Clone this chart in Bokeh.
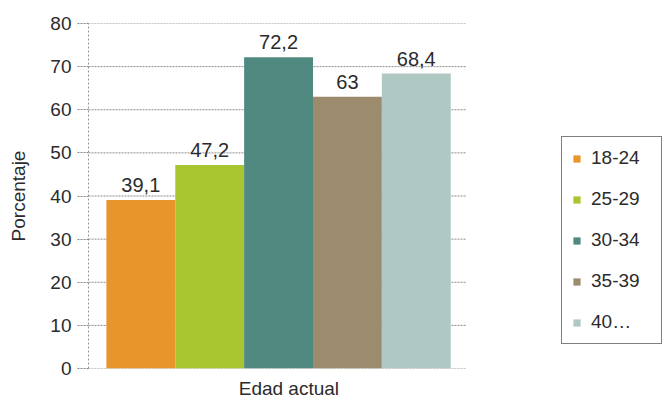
from bokeh.plotting import figure
from bokeh.models import ColumnDataSource, FixedTicker, Legend, LegendItem, Range1d
from bokeh.core.properties import value
from bokeh.embed import file_html
from bokeh.resources import INLINE

# Age groups and percentage values
groups = ["18-24", "25-29", "30-34", "35-39", "40..."]
legend_labels = ["18-24", "25-29", "30-34", "35-39", "40…"]
percent = [39.1, 47.2, 72.2, 63.0, 68.4]
value_labels = ["39,1", "47,2", "72,2", "63", "68,4"]
colors = ["#E8962C", "#A9C631", "#4F8980", "#9C8B6D", "#AEC8C3"]
y_ticks = [0, 10, 20, 30, 40, 50, 60, 70, 80]
x_title = "Edad actual"

FONT = "Liberation Sans"
TXT = "#2b2b2b"

# horizontal extent of the bar area (in bar units)
X_LEFT, X_RIGHT = -0.76, 4.73
TITLE_POS = 2.15

src = ColumnDataSource(dict(
    x=list(range(len(groups))),
    top=percent,
    color=colors,
    lab=value_labels,
))

p = figure(
    width=663, height=401,
    x_range=Range1d(X_LEFT, 7.59), y_range=Range1d(0, 80),
    output_backend="svg", toolbar_location=None,
    min_border_left=88, min_border_right=0,
    min_border_top=23, min_border_bottom=32,
)
p.outline_line_color = None
p.background_fill_color = "white"

# dashed guide lines across the bar area only
p.segment(x0=X_LEFT, x1=X_RIGHT, y0=y_ticks, y1=y_ticks,
          line_color="#8c8c8c", line_dash="2 1", line_width=1)

rs = []
for i in range(len(groups)):
    r = p.vbar(x=[i], top=[percent[i]], width=1.0, fill_color=colors[i],
               line_color=None)
    rs.append(r)

p.text(x="x", y="top", text="lab", source=src, text_align="center",
       text_baseline="bottom", y_offset=-8, text_font=value(FONT),
       text_font_size="20px", text_color=TXT)

# y axis
p.yaxis.ticker = FixedTicker(ticks=y_ticks)
p.yaxis.axis_label = "Porcentaje"
p.yaxis.axis_label_text_font = FONT
p.yaxis.axis_label_text_font_size = "19px"
p.yaxis.axis_label_text_font_style = "normal"
p.yaxis.axis_label_text_color = TXT
p.yaxis.axis_label_standoff = 18
p.yaxis.major_label_text_font = FONT
p.yaxis.major_label_text_font_size = "19px"
p.yaxis.major_label_text_color = TXT
p.yaxis.major_label_standoff = 6
p.yaxis.axis_line_color = "#8a9aa0"
p.yaxis.axis_line_dash = "2 2"
p.yaxis.major_tick_out = 11
p.yaxis.major_tick_in = 0
p.yaxis.major_tick_line_color = "#888888"
p.yaxis.major_tick_line_dash = "2 1"
p.yaxis.minor_tick_line_color = None

# x axis: a single label under the bars acting as title
p.xaxis.ticker = FixedTicker(ticks=[TITLE_POS])
p.xaxis.major_label_overrides = {TITLE_POS: x_title}
p.xaxis.major_label_text_font = FONT
p.xaxis.major_label_text_font_size = "19px"
p.xaxis.major_label_text_color = TXT
p.xaxis.major_label_standoff = 9
p.xaxis.axis_line_color = None
p.xaxis.major_tick_line_color = None
p.xaxis.minor_tick_line_color = None
p.xaxis.major_tick_out = 0
p.xaxis.major_tick_in = 0

p.grid.grid_line_color = None

legend = Legend(
    items=[LegendItem(label=legend_labels[i], renderers=[rs[i]]) for i in range(len(groups))],
    location=(561 - 88, 24),
    border_line_color="black", border_line_width=1,
    background_fill_color="white", background_fill_alpha=1,
    glyph_width=9, glyph_height=9,
    label_text_font=FONT, label_text_font_size="19px", label_text_color=TXT,
    label_standoff=10, label_height=16, label_width=60,
    spacing=19, padding=10, margin=0,
)
p.add_layout(legend, "center")

open("out.html", "w").write(file_html(p, INLINE))
